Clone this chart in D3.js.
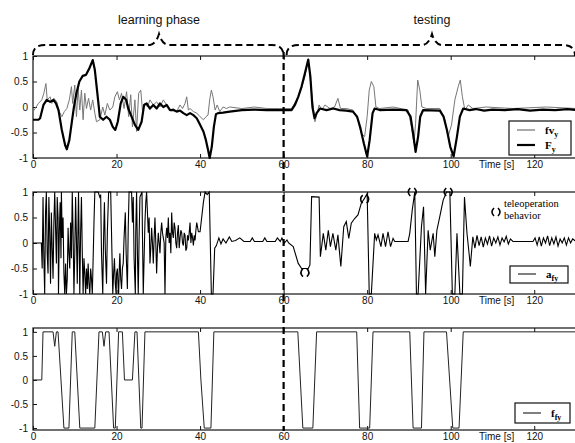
<!DOCTYPE html>
<html>
<head>
<meta charset="utf-8">
<script src="https://cdn.jsdelivr.net/npm/d3@7"></script>
<style>
  body { margin: 0; background: #fff; }
  svg { display: block; }
</style>
</head>
<body>
<div id="chart"></div>
<script>
// time axis (s) and value ticks
const xTicks = [0, 20, 40, 60, 80, 100, 120];
const yTicks = [-1, -0.5, 0, 0.5, 1];
const yTickLabels = ["-1", "-0.5", "0", "0.5", "1"];
const phaseNames = ["learning phase", "testing"];

// panel 1: fv_y (thin) and F_y (thick), [time, value]
const fvY = [
  [0,-0.09],[0.5,-0.03],[1.3,0.07],[2.1,0.14],[2.6,0.27],[3.1,0.46],[3.4,0.14],[4.1,0.2],[4.5,0.07],
  [5.0,0.17],[5.7,0.1],[6.3,-0.09],[6.9,-0.19],[7.5,-0.09],[8.1,-0.03],[8.7,0.14],[9.2,0.4],[9.5,0.07],
  [10.0,0.43],[10.4,-0.19],[10.8,0.37],[11.2,-0.06],[11.6,0.33],[12.0,-0.25],[12.4,0.27],[12.8,-0.03],
  [13.3,0.17],[13.8,-0.06],[14.3,0.14],[14.8,-0.12],[15.2,-0.29],[16.0,-0.25],[16.7,0.0],[17.2,-0.16],
  [17.8,0.07],[18.4,-0.06],[19.1,0.0],[19.6,0.2],[20.2,0.3],[20.7,0.14],[21.2,0.27],[21.8,-0.03],
  [22.4,0.3],[22.9,-0.19],[23.4,0.24],[23.8,-0.39],[24.4,0.14],[24.8,-0.48],[25.3,0.27],[25.8,0.33],
  [26.2,-0.06],[26.8,0.07],[27.4,0.0],[28.0,0.14],[28.8,0.04],[29.6,0.1],[30.4,0.0],[31.2,0.14],
  [32.0,0.04],[32.8,-0.06],[33.6,-0.03],[34.4,-0.09],[35.2,0.04],[35.8,-0.03],[36.4,0.07],[36.8,0.2],
  [37.2,-0.06],[37.6,-0.03],[38.4,-0.09],[39.2,-0.12],[40.0,-0.19],[40.8,-0.25],[41.4,-0.19],[41.9,-0.16],
  [42.3,0.14],[42.7,0.33],[43.1,0.2],[43.6,-0.06],[44.1,0.04],[44.7,-0.09],[45.5,0.0],[46.3,-0.03],
  [47.1,0.0],[50,-0.03],[53,0.0],[56,-0.03],[59.1,-0.03],[61.9,-0.03],[63.1,0.14],[64.3,0.37],
  [65.1,0.6],[65.9,0.92],[66.4,0.53],[66.9,0.14],[67.5,-0.29],[67.9,-0.16],[68.5,0.04],[69.1,-0.06],
  [69.9,0.04],[71.1,-0.03],[72.2,0.0],[73.0,0.17],[73.6,-0.03],[75.0,-0.03],[76.6,-0.06],[77.8,-0.25],
  [78.6,-0.52],[79.4,-0.58],[80.0,-0.19],[80.5,0.33],[81.0,0.5],[81.6,0.4],[82.1,0.0],[83.0,-0.03],
  [86.2,0.0],[89.8,-0.06],[90.6,-0.39],[91.2,-0.71],[91.6,-0.32],[92.1,0.53],[92.6,0.33],[93.1,0.0],
  [94.2,-0.03],[97.4,-0.03],[98.6,-0.25],[99.4,-0.58],[100.2,-0.35],[101.0,0.14],[101.8,0.4],
  [102.3,0.53],[102.8,0.2],[103.4,-0.06],[104.2,0.04],[105.3,-0.03],[108.5,0.0],[114.9,-0.03],
  [122.9,0.0],[130,-0.03]
];
const FY = [
  [0,-0.25],[1.3,-0.25],[1.7,-0.22],[2.5,0.04],[3.3,0.14],[4.1,0.1],[4.9,0.14],[5.5,0.07],[6.1,-0.06],
  [6.9,-0.45],[7.7,-0.75],[8.1,-0.83],[8.7,-0.65],[9.3,-0.29],[9.8,0.0],[10.4,0.27],[11.1,0.5],
  [11.9,0.61],[12.7,0.63],[13.5,0.76],[14.3,0.92],[14.8,0.73],[15.5,0.2],[16.0,-0.19],[16.8,-0.25],
  [17.6,-0.19],[18.4,-0.25],[19.1,-0.39],[19.7,-0.45],[20.3,-0.29],[21.0,0.07],[21.6,0.2],[22.3,0.14],
  [22.8,-0.03],[23.6,-0.19],[24.4,-0.35],[25.2,-0.45],[26.0,-0.29],[26.6,0.04],[27.2,0.07],[28.0,-0.03],
  [28.8,0.04],[29.6,-0.03],[30.4,0.07],[31.2,0.0],[32.0,0.04],[32.8,-0.06],[33.6,-0.06],[34.4,-0.09],
  [35.2,-0.07],[36.0,-0.12],[36.8,-0.16],[37.6,-0.12],[38.4,-0.16],[39.2,-0.22],[40.0,-0.35],
  [40.8,-0.48],[41.4,-0.65],[41.9,-0.84],[42.3,-1.0],[42.8,-0.78],[43.3,-0.39],[43.8,-0.14],
  [44.3,-0.12],[45.5,-0.11],[47.1,-0.09],[50,-0.06],[53,-0.05],[56,-0.06],[59.1,-0.06],[61.9,-0.06],
  [62.7,0.04],[63.5,0.2],[64.3,0.4],[65.1,0.66],[65.9,0.93],[66.4,0.6],[66.9,0.0],[67.4,-0.22],
  [67.9,-0.12],[68.7,-0.03],[70.3,-0.06],[71.9,-0.03],[73.4,-0.06],[75.0,-0.07],[76.6,-0.09],
  [77.6,-0.19],[78.4,-0.42],[79.2,-0.71],[80.0,-0.97],[80.6,-0.65],[81.3,-0.12],[81.8,-0.03],
  [83.0,-0.06],[86.2,-0.05],[89.4,-0.06],[90.4,-0.19],[91.0,-0.52],[91.6,-0.88],[92.2,-0.58],
  [92.7,-0.19],[93.4,-0.06],[97.4,-0.07],[98.3,-0.19],[99.1,-0.45],[99.9,-0.78],[100.7,-0.97],
  [101.5,-0.58],[102.2,-0.19],[103.0,-0.03],[104.5,-0.06],[106,-0.04],[108,-0.07],[110,-0.05],
  [113,-0.06],[116,-0.04],[119,-0.07],[122,-0.05],[125,-0.06],[128,-0.04],[130,-0.06]
];

// panel 2: a_fy
const aFy = [
  [0,0],[1.7,0],[2.0,0],[2.2,-0.5],[2.4,0.9],[2.6,-0.3],[2.8,-1],[3.0,0.6],[3.2,1],[3.4,-0.2],
  [3.6,-0.6],[3.8,0.9],[4.0,0.2],[4.2,-0.8],[4.4,0.6],[4.6,-0.1],[4.8,-0.7],[5.0,0.4],[5.2,1],
  [5.4,0.3],[5.6,-0.4],[5.8,0.9],[6.0,0.5],[6.1,-1],[6.3,0.2],[6.5,0.8],[6.7,-0.3],[6.8,1],[7.0,0.1],
  [7.2,0.5],[7.4,-0.6],[7.6,-1],[7.8,-0.4],[8.0,-1],[8.2,-0.7],[8.4,0.3],[8.6,-0.2],[8.8,-0.5],
  [9.0,0.4],[9.2,-0.3],[9.4,1],[9.6,0.2],[9.8,-1],[10.0,-0.2],[10.2,0.9],[10.4,0.1],[10.6,-0.8],
  [10.8,0.5],[10.9,1],[11.1,-0.3],[11.2,-1],[11.4,0.2],[11.6,0.9],[11.8,-0.2],[12.0,-1],[12.2,-0.3],
  [12.4,-0.6],[12.6,-1],[12.8,-0.5],[13.0,-0.9],[13.2,-0.4],[13.4,-0.8],[13.6,-1],[13.8,-0.5],
  [14.0,-0.7],[14.2,-1],[14.4,-0.3],[14.6,0.4],[14.8,1],[15.6,1],[16.0,0.9],[16.2,0.95],[16.4,-0.2],
  [16.7,-1],[16.9,0.1],[17.1,0.8],[17.3,-0.1],[17.6,-0.8],[17.8,0.2],[18.1,1],[18.6,1],[18.8,0.2],
  [19.1,-1],[19.3,-0.6],[19.5,-0.3],[19.7,-0.8],[19.9,-1],[20.0,-0.6],[20.2,-0.5],[20.4,-0.9],
  [20.5,-1],[20.7,-0.4],[20.8,-0.2],[21.0,-0.7],[21.2,-0.9],[21.4,-0.5],[21.6,-0.4],[21.8,0.1],
  [22.1,0.6],[22.3,-0.2],[22.6,-0.9],[22.8,0.3],[23.0,1],[23.6,1],[23.8,0.4],[24.0,0.9],[24.2,-0.3],
  [24.5,-1],[24.6,0.2],[24.8,1],[25.0,-0.2],[25.2,-1],[25.4,0.1],[25.6,0.9],[26.1,1],[26.2,0.2],
  [26.4,-1],[26.6,-0.3],[26.8,0.4],[27.0,0.8],[27.2,1],[27.4,0.6],[27.6,0.2],[27.8,0.5],[28.0,-0.4],
  [28.2,-0.1],[28.4,0.3],[28.6,0.0],[28.8,-0.4],[29.0,0.1],[29.2,0.5],[29.4,0.0],[29.6,-0.6],
  [29.8,-0.1],[30.0,0.2],[30.2,0.0],[30.4,-0.2],[30.6,0.2],[30.8,0.4],[31.0,0.2],[31.2,0.1],[31.4,0.0],
  [31.6,-1],[31.8,0.1],[32.0,0.3],[32.2,0.1],[32.4,0.5],[32.6,0.0],[32.8,0.2],[33.0,-0.2],[33.2,0.6],
  [33.4,0.2],[33.6,0.1],[33.8,0.4],[34.0,0.3],[34.2,0.0],[34.4,-0.1],[34.6,0.2],[34.8,0.35],
  [35.0,-0.1],[35.2,0.1],[35.4,0.25],[35.6,0.2],[35.8,0.0],[36.0,-0.05],[36.2,0.2],[36.4,0.15],
  [36.6,-0.15],[36.8,-0.1],[37.0,0.15],[37.2,0.05],[37.4,0.2],[37.6,0.4],[37.8,0.0],[38.0,0.2],
  [38.2,0.1],[38.4,-0.05],[38.6,0.15],[38.8,0.05],[39.0,0.25],[39.2,0.4],[39.6,0.22],[40.0,0.22],
  [40.8,0.8],[41.2,1],[41.7,0.95],[42.2,1],[42.7,-1],[43.1,-1],[43.5,-0.1],[43.9,-0.05],[44.5,0.1],
  [45.0,-0.02],[45.5,0.08],[46.2,0.0],[47.0,0.12],[47.6,0.03],[48.5,0.05],[49.5,0.1],[50.5,0.03],
  [52.0,0.03],[52.5,0.1],[53.0,0.03],[55.0,0.03],[55.5,0.1],[56.0,0.03],[58.0,0.03],[58.5,0.1],
  [59.2,0.03],[59.6,0.1],[60.2,0.0],[60.8,0.06],[61.2,0.0],[62.3,-0.07],[63.5,-0.4],[64.3,-0.5],
  [65.9,-0.5],[66.3,-0.43],[66.7,0.91],[68.5,0.9],[68.8,-0.27],[69.5,0.19],[70.1,-0.14],[70.7,0.25],
  [71.2,-0.07],[71.8,0.19],[72.5,-0.14],[73.0,0.16],[73.7,-0.46],[74.4,0.32],[75.0,0.42],[75.6,0.09],
  [76.2,0.39],[77.0,0.48],[77.8,0.55],[78.6,0.78],[79.4,0.88],[80.0,0.97],[80.5,-1],[81.0,-1],
  [81.8,0.19],[82.2,0.06],[82.6,0.16],[83.3,-0.07],[83.8,0.19],[84.4,-0.07],[85.0,0.22],[85.6,-0.07],
  [86.2,0.09],[86.6,0.03],[89.8,0.03],[90.2,0.19],[90.8,0.65],[91.4,1.0],[91.8,-1],[92.2,-1],
  [93.0,0.32],[93.5,0.71],[94.0,-1],[94.6,0.25],[95.1,-0.14],[95.8,0.19],[96.2,-0.27],[96.7,0.25],
  [97.4,0.52],[98.2,0.84],[99.0,1.0],[99.8,1.0],[100.4,-1],[101.0,-1],[101.5,0.19],[102.2,-1],
  [102.8,-1],[103.3,0.9],[103.9,0.19],[104.4,-0.2],[104.7,-0.46],[105.3,0.12],[105.8,-0.1],
  [106.3,0.15],[106.8,-0.05],[107.3,0.12],[107.8,-0.08],[108.3,0.1],[108.8,-0.02],[109.3,0.14],
  [109.8,-0.06],[110.3,0.1],[110.8,0.0],[111.3,0.12],[111.8,-0.04],[112.3,0.1],[112.8,0.02],
  [113.3,0.13],[113.8,-0.02],[114.3,0.08],[114.9,0.03],[119.7,0.03],[120.2,0.1],[120.7,-0.04],
  [121.2,0.12],[121.7,-0.06],[122.2,0.1],[122.7,0.0],[123.2,0.14],[123.7,-0.05],[124.2,0.1],
  [124.7,-0.02],[125.2,0.12],[125.7,-0.06],[126.2,0.08],[126.7,0.0],[127.2,0.1],[127.7,-0.04],
  [128.2,0.1],[128.7,0.0],[129.2,0.08],[130,0.03]
];
// teleoperation behaviour markers on a_fy
const teleopMarks = [[65.1, -0.58], [79.4, 0.86], [90.8, 1.0], [99.4, 1.0]];

// panel 3: f_fy
const fFy = [
  [0,0],[2.1,0],[2.4,1],[4.8,1],[5.2,0.7],[5.6,1],[6.0,1],[7.4,-1],[8.6,-1],[9.4,1],[10.0,1],
  [11.2,-1],[14.8,-1],[15.8,1],[16.6,1],[17.0,0.7],[17.4,1],[18.2,1],[19.3,-1],[19.7,-1],[20.5,1],
  [21.4,1],[21.9,0],[23.8,0],[24.4,1],[24.9,1],[25.8,-1],[26.1,-1],[26.8,1],[39.6,1],[40.2,0],
  [41.0,-1],[42.6,-1],[43.3,1],[63.4,1],[64.6,-1],[67.0,-1],[67.9,1],[77.5,1],[78.2,-1],[80.6,-1],
  [81.4,1],[90.2,1],[91.0,-1],[93.0,-1],[93.6,1],[99.0,1],[100.5,-1],[102.0,-1],[103.0,1],[130,1]
];

const width = 575, height = 443;
const svg = d3.select("#chart").append("svg")
  .attr("width", width).attr("height", height)
  .style("font-family", "'Liberation Sans', Arial, sans-serif");

const x = d3.scaleLinear().domain([0, 130]).range([33, 576]);

const panels = [
  { top: 56, bottom: 158, domain: [-1, 1] },
  { top: 192, bottom: 294, domain: [-1, 1] },
  { top: 328, bottom: 430, domain: [-1.04, 1.08] },
];
panels.forEach(p => {
  p.y = d3.scaleLinear().domain(p.domain).range([p.bottom, p.top]);
});

panels.forEach(p => {
  const g = svg.append("g");
  g.append("rect")
    .attr("x", x(0)).attr("y", p.top)
    .attr("width", x(130) - x(0)).attr("height", p.bottom - p.top)
    .attr("fill", "none").attr("stroke", "#111").attr("stroke-width", 1.2);

  const xb = g.append("g").attr("transform", `translate(0,${p.bottom})`)
    .call(d3.axisBottom(x).tickValues(xTicks).tickSizeInner(-4).tickSizeOuter(0).tickPadding(3));
  const xt = g.append("g").attr("transform", `translate(0,${p.top})`)
    .call(d3.axisTop(x).tickValues(xTicks).tickSizeInner(-4).tickSizeOuter(0).tickFormat(() => ""));
  const yl = g.append("g").attr("transform", `translate(${x(0)},0)`)
    .call(d3.axisLeft(p.y).tickValues(yTicks).tickSizeInner(-4).tickSizeOuter(0).tickPadding(5)
      .tickFormat((d, i) => yTickLabels[i]));
  [xb, xt, yl].forEach(a => {
    a.select(".domain").remove();
    a.selectAll("line").attr("stroke", "#111");
    a.selectAll("text").attr("fill", "#111").style("font-size", "10px");
  });

  g.append("text")
    .attr("x", x(111)).attr("y", p.bottom + 10)
    .attr("text-anchor", "middle").attr("fill", "#111")
    .style("font-size", "10px").text("Time [s]");
});

// series
const line = yScale => d3.line().x(d => x(d[0])).y(d => yScale(d[1]));

svg.append("path").datum(fvY)
  .attr("d", line(panels[0].y)).attr("fill", "none")
  .attr("stroke", "#777").attr("stroke-width", 1);
svg.append("path").datum(FY)
  .attr("d", line(panels[0].y)).attr("fill", "none")
  .attr("stroke", "#000").attr("stroke-width", 2.2).attr("stroke-linejoin", "round");
svg.append("path").datum(aFy)
  .attr("d", line(panels[1].y)).attr("fill", "none")
  .attr("stroke", "#000").attr("stroke-width", 1.1);
svg.append("path").datum(fFy)
  .attr("d", line(panels[2].y)).attr("fill", "none")
  .attr("stroke", "#222").attr("stroke-width", 1);

// "( )" bracket marker drawn around a point
function bracketPath(cx, cy) {
  return `M${cx - 2},${cy - 4} Q${cx - 6},${cy} ${cx - 2},${cy + 4}` +
         `M${cx + 2},${cy - 4} Q${cx + 6},${cy} ${cx + 2},${cy + 4}`;
}
svg.selectAll(".teleop").data(teleopMarks).join("path")
  .attr("class", "teleop")
  .attr("d", d => bracketPath(x(d[0]), panels[1].y(d[1])))
  .attr("fill", "none").attr("stroke", "#000").attr("stroke-width", 1.6);

// teleoperation annotation
svg.append("path").attr("d", bracketPath(496, 212))
  .attr("fill", "none").attr("stroke", "#000").attr("stroke-width", 1.6);
svg.append("text").attr("x", 504).attr("y", 207)
  .style("font-family", "'Liberation Serif', serif").style("font-size", "10.5px")
  .text("teleoperation");
svg.append("text").attr("x", 504).attr("y", 219)
  .style("font-family", "'Liberation Serif', serif").style("font-size", "10.5px")
  .text("behavior");

// legends
function legend(box, rows) {
  const g = svg.append("g");
  g.append("rect").attr("x", box[0]).attr("y", box[1])
    .attr("width", box[2]).attr("height", box[3])
    .attr("fill", "#fff").attr("stroke", "#111").attr("stroke-width", 1.2);
  rows.forEach(r => {
    g.append("line").attr("x1", box[0] + 8).attr("x2", box[0] + 26)
      .attr("y1", r.y).attr("y2", r.y)
      .attr("stroke", r.color).attr("stroke-width", r.w);
    const t = g.append("text").attr("x", box[0] + 36).attr("y", r.y + 4)
      .style("font-family", "'Liberation Serif', serif").style("font-size", "11px")
      .style("font-weight", "bold");
    t.append("tspan").text(r.main);
    t.append("tspan").attr("dy", 3).style("font-size", "8px").text(r.sub);
  });
}
legend([509, 121, 62, 34], [
  { y: 130, main: "fv", sub: "y", color: "#555", w: 1 },
  { y: 145, main: "F", sub: "y", color: "#000", w: 2.2 },
]);
legend([510, 266, 58, 17], [{ y: 274, main: "a", sub: "fy", color: "#000", w: 1 }]);
legend([515, 403, 55, 20], [{ y: 413, main: "f", sub: "fy", color: "#000", w: 1 }]);

// phase braces and dashed divider
const dash = "7,4";
svg.append("line")
  .attr("x1", x(60)).attr("x2", x(60)).attr("y1", 52).attr("y2", 431)
  .attr("stroke", "#000").attr("stroke-width", 2.2).attr("stroke-dasharray", dash);

const braceY = 45, peakY = 34;
const braces = [
  { x0: x(0), x1: x(60), peak: 159 },
  { x0: x(60) + 3, x1: 575, peak: 432 },
];
braces.forEach(b => {
  const p = d3.path();
  p.moveTo(b.x0, 55);
  p.quadraticCurveTo(b.x0, braceY, b.x0 + 12, braceY);
  p.lineTo(b.peak - 9, braceY);
  p.quadraticCurveTo(b.peak - 3, braceY - 1, b.peak, peakY);
  p.quadraticCurveTo(b.peak + 3, braceY - 1, b.peak + 9, braceY);
  p.lineTo(b.x1 - 12, braceY);
  p.quadraticCurveTo(b.x1, braceY, b.x1, 56);
  svg.append("path").attr("d", p.toString())
    .attr("fill", "none").attr("stroke", "#000").attr("stroke-width", 2)
    .attr("stroke-dasharray", dash);
});

svg.selectAll(".phase").data(phaseNames).join("text")
  .attr("class", "phase")
  .attr("x", (d, i) => braces[i].peak).attr("y", 24)
  .attr("text-anchor", "middle").attr("fill", "#111")
  .style("font-size", "12.5px").text(d => d);
</script>
</body>
</html>
